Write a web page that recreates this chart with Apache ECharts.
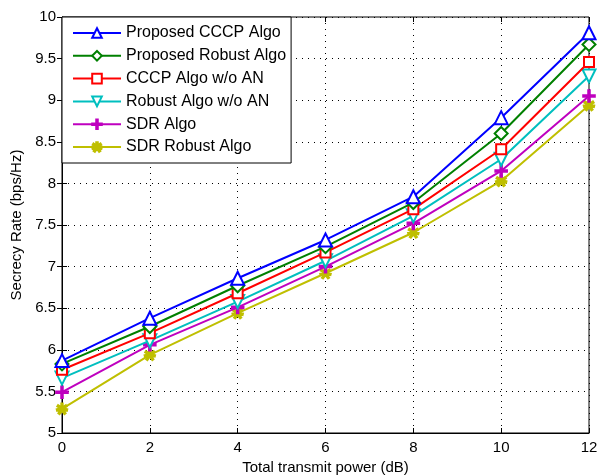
<!DOCTYPE html>
<html>
<head>
<meta charset="utf-8">
<script src="https://cdn.jsdelivr.net/npm/echarts@6/dist/echarts.min.js"></script>
<style>
  body { margin: 0; background: #fff; }
  #chart { width: 597px; height: 475px; }
</style>
</head>
<body>
<div id="chart"></div>
<script>
  // transmit power (dB)
  var power = [0, 2, 4, 6, 8, 10, 12];
  var seriesNames = ['Proposed CCCP Algo', 'Proposed Robust Algo', 'CCCP Algo w/o AN',
    'Robust Algo w/o AN', 'SDR Algo', 'SDR Robust Algo'];
  var proposedCccp = [5.87, 6.38, 6.86, 7.32, 7.84, 8.79, 9.81];
  var proposedRobust = [5.83, 6.28, 6.77, 7.24, 7.77, 8.60, 9.67];
  var cccpNoAn = [5.76, 6.20, 6.68, 7.17, 7.69, 8.41, 9.46];
  var robustNoAn = [5.66, 6.11, 6.58, 7.07, 7.61, 8.29, 9.29];
  var sdr = [5.49, 6.06, 6.51, 7.00, 7.52, 8.15, 9.05];
  var sdrRobust = [5.29, 5.94, 6.44, 6.92, 7.41, 8.03, 8.94];

  var font = 'Liberation Sans, Arial, sans-serif';
  var plusPath = 'path://M4.2,0L5.8,0L5.8,4.2L10,4.2L10,5.8L5.8,5.8L5.8,10L4.2,10L4.2,5.8L0,5.8L0,4.2L4.2,4.2Z';
  var starPath = 'path://M4.2,0L5.8,0L5.8,3.1L8.6,1.3L9.5,2.7L6.7,4.3L10,5L9.6,6.6L6.4,5.8L8.5,8.7L7.2,9.6L5,6.8L2.8,9.6L1.5,8.7L3.6,5.8L0.4,6.6L0,5L3.3,4.3L0.5,2.7L1.4,1.3L4.2,3.1Z';

  var styles = [
    { color: '#0000ff', symbol: 'emptyTriangle', size: 13, rotate: 0 },
    { color: '#008000', symbol: 'emptyDiamond', size: 13, rotate: 0 },
    { color: '#ff0000', symbol: 'emptyRect', size: 10, rotate: 0 },
    { color: '#00bfbf', symbol: 'emptyTriangle', size: 13, rotate: 180 },
    { color: '#bf00bf', symbol: plusPath, size: 12, rotate: 0 },
    { color: '#bfbf00', symbol: starPath, size: 11, rotate: 0 }
  ];
  var allData = [proposedCccp, proposedRobust, cccpNoAn, robustNoAn, sdr, sdrRobust];

  var series = allData.map(function (vals, i) {
    var s = styles[i];
    return {
      name: seriesNames[i],
      type: 'line',
      data: power.map(function (p, k) { return [p, vals[k]]; }),
      symbol: s.symbol,
      symbolSize: s.size,
      symbolRotate: s.rotate,
      showAllSymbol: true,
      lineStyle: { color: s.color, width: 2 },
      itemStyle: { color: s.color, borderColor: s.color, borderWidth: 1.6 },
      emphasis: { disabled: true },
      z: 10 - i
    };
  });

  var chart = echarts.init(document.getElementById('chart'));
  chart.setOption({
    animation: false,
    backgroundColor: '#fff',
    grid: {
      left: 62, right: 8, top: 17, bottom: 42,
      outerBoundsMode: 'none',
      show: true, borderColor: '#000', borderWidth: 1
    },
    legend: {
      orient: 'vertical',
      left: 62,
      top: 17,
      data: seriesNames,
      backgroundColor: '#fff',
      borderColor: '#000',
      borderWidth: 1,
      borderRadius: 0,
      padding: [8, 5, 8, 10],
      itemWidth: 48,
      itemHeight: 12,
      itemGap: 6.8,
      textStyle: { fontFamily: font, fontSize: 16, color: '#000' }
    },
    xAxis: [{
      type: 'value', min: 0, max: 12, interval: 2,
      name: 'Total transmit power (dB)', nameLocation: 'middle', nameGap: 24,
      nameTextStyle: { fontFamily: font, fontSize: 15, color: '#000' },
      axisLine: { onZero: false, lineStyle: { color: '#000' } },
      axisTick: { inside: true, length: 5, lineStyle: { color: '#000' } },
      axisLabel: { fontFamily: font, fontSize: 15, color: '#000', margin: 7 },
      splitLine: { show: true, lineStyle: { color: '#000', type: [1, 5], width: 1 } }
    }, {
      type: 'value', min: 0, max: 12, interval: 2, position: 'top',
      axisLine: { show: false },
      axisTick: { inside: true, length: 5, lineStyle: { color: '#000' } },
      axisLabel: { show: false },
      splitLine: { show: false }
    }],
    yAxis: [{
      type: 'value', min: 5, max: 10, interval: 0.5,
      name: 'Secrecy Rate (bps/Hz)', nameLocation: 'middle', nameGap: 37,
      nameTextStyle: { fontFamily: font, fontSize: 15, color: '#000' },
      axisLine: { show: true, onZero: false, lineStyle: { color: '#000' } },
      axisTick: { show: true, inside: true, length: 5, lineStyle: { color: '#000' } },
      axisLabel: { fontFamily: font, fontSize: 15, color: '#000', margin: 6 },
      splitLine: { show: true, lineStyle: { color: '#000', type: [1, 5], width: 1 } }
    }, {
      type: 'value', min: 5, max: 10, interval: 0.5, position: 'right',
      axisLine: { show: false },
      axisTick: { show: true, inside: true, length: 5, lineStyle: { color: '#000' } },
      axisLabel: { show: false },
      splitLine: { show: false }
    }],
    series: series
  });
</script>
</body>
</html>
